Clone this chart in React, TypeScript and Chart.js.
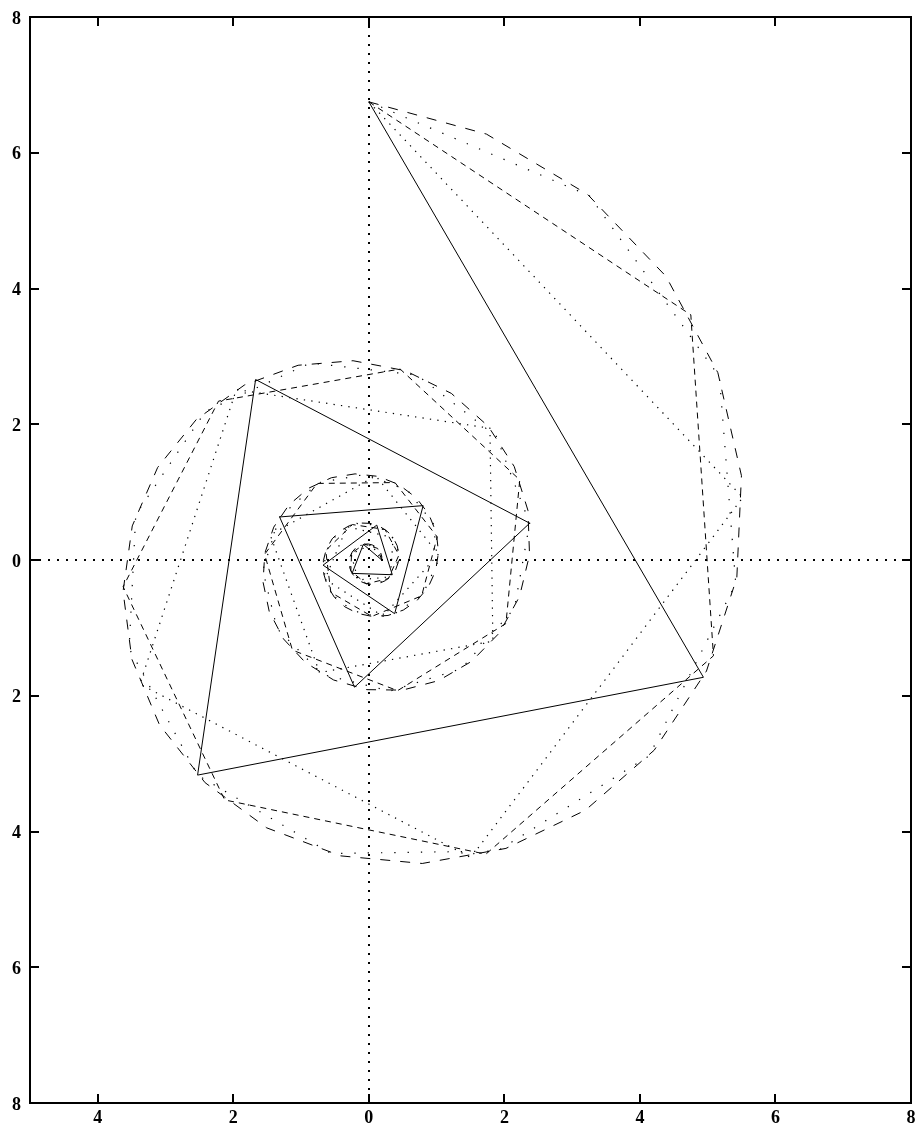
import React, { useEffect, useRef } from "react";
import { Chart, registerables } from "chart.js";

Chart.register(...registerables);

// tick values (labels are drawn as absolute values, as in the reference)
const xTickValues = [-4, -2, 0, 2, 4, 6, 8];
const yTickValues = [-8, -6, -4, -2, 0, 2, 4, 6, 8];

// solid curve (15 vertices)
const solidX = [0, 4.937, -2.527, -1.671, 2.373, -0.211, -1.317, 0.801, 0.381, -0.676, 0.117, 0.346, -0.247, -0.081, 0.19];
const solidY = [6.75, -1.728, -3.169, 2.659, 0.542, -1.874, 0.634, 0.801, -0.791, -0.076, 0.514, -0.217, -0.197, 0.231, 0];

// dotted curve (20 vertices)
const dottedX = [0, 5.518, 1.505, -3.378, -1.955, 1.787, 1.83, -0.728, -1.455, 0.103, 1.027, 0.21, -0.648, -0.321, 0.358, 0.318, -0.159, -0.262, 0.038, 0.19];
const dottedY = [6.75, 0.921, -4.384, -1.828, 2.512, 1.941, -1.196, -1.659, 0.369, 1.24, 0.085, -0.828, -0.284, 0.491, 0.329, -0.248, -0.294, 0.09, 0.226, 0];

// dashed curve (30 vertices)
const dashedX = [0, 4.751, 5.085, 1.727, -2.127, -3.626, -2.218, 0.461, 2.227, 2.023, 0.424, -1.128, -1.538, -0.764, 0.385, 1.009, 0.779, 0.045, -0.561, -0.636, -0.242, 0.238, 0.444, 0.289, -0.038, -0.266, -0.255, -0.065, 0.13, 0.19];
const dashedY = [6.75, 3.612, -1.412, -4.334, -3.535, -0.394, 2.341, 2.814, 1.181, -0.936, -1.925, -1.328, 0.083, 1.128, 1.141, 0.34, -0.528, -0.831, -0.477, 0.14, 0.522, 0.45, 0.073, -0.274, -0.35, -0.16, 0.102, 0.234, 0.171, 0];

// sparse-dot curve (50 vertices)
const sparseX = [0, 3.253, 5.173, 5.414, 4.136, 1.898, -0.558, -2.527, -3.537, -3.439, -2.411, -0.862, 0.714, 1.881, 2.373, 2.148, 1.364, 0.312, -0.682, -1.355, -1.565, -1.317, -0.741, -0.041, 0.576, 0.951, 1.015, 0.791, 0.381, -0.078, -0.454, -0.654, -0.647, -0.464, -0.179, 0.117, 0.341, 0.441, 0.406, 0.265, 0.07, -0.118, -0.247, -0.292, -0.25, -0.146, -0.015, 0.102, 0.175, 0.19];
const sparseY = [6.75, 5.367, 2.699, -0.348, -2.885, -4.288, -4.324, -3.169, -1.301, 0.67, 2.19, 2.903, 2.724, 1.821, 0.542, -0.713, -1.602, -1.931, -1.686, -1.011, -0.151, 0.634, 1.139, 1.263, 1.023, 0.536, -0.033, -0.515, -0.791, -0.812, -0.608, -0.265, 0.105, 0.395, 0.538, 0.514, 0.352, 0.116, -0.121, -0.291, -0.359, -0.319, -0.197, -0.038, 0.111, 0.209, 0.236, 0.195, 0.106, 0];

// long-dash curve (100 vertices)
const longX = [
  0, 1.735, 3.226, 4.384, 5.15, 5.498, 5.43, 4.982, 4.211, 3.195,
  2.023, 0.788, -0.416, -1.507, -2.416, -3.089, -3.496, -3.627, -3.491, -3.116,
  -2.547, -1.836, -1.044, -0.233, 0.538, 1.217, 1.762, 2.145, 2.348, 2.371,
  2.223, 1.928, 1.517, 1.027, 0.497, -0.03, -0.519, -0.937, -1.259, -1.47,
  -1.561, -1.536, -1.403, -1.179, -0.888, -0.553, -0.203, 0.137, 0.444, 0.698,
  0.885, 0.996, 1.028, 0.986, 0.876, 0.711, 0.508, 0.283, 0.053, -0.165,
  -0.355, -0.508, -0.613, -0.668, -0.671, -0.627, -0.541, -0.423, -0.283, -0.132,
  0.017, 0.155, 0.272, 0.362, 0.419, 0.443, 0.434, 0.395, 0.33, 0.246,
  0.151, 0.052, -0.044, -0.131, -0.202, -0.254, -0.284, -0.292, -0.278, -0.246,
  -0.199, -0.14, -0.076, -0.011, 0.05, 0.104, 0.146, 0.175, 0.19, 0.19,
];
const longY = [
  6.75, 6.275, 5.388, 4.18, 2.76, 1.242, -0.259, -1.636, -2.802, -3.687,
  -4.249, -4.471, -4.359, -3.946, -3.281, -2.429, -1.464, -0.463, 0.502, 1.364,
  2.069, 2.578, 2.869, 2.936, 2.789, 2.455, 1.97, 1.378, 0.73, 0.075,
  -0.539, -1.073, -1.493, -1.778, -1.917, -1.91, -1.768, -1.51, -1.163, -0.758,
  -0.327, 0.098, 0.485, 0.812, 1.058, 1.212, 1.269, 1.232, 1.11, 0.918,
  0.674, 0.399, 0.115, -0.158, -0.4, -0.597, -0.738, -0.817, -0.832, -0.787,
  -0.689, -0.55, -0.38, -0.196, -0.011, 0.163, 0.312, 0.429, 0.508, 0.545,
  0.54, 0.498, 0.423, 0.324, 0.208, 0.085, -0.035, -0.144, -0.235, -0.303,
  -0.345, -0.36, -0.348, -0.312, -0.257, -0.187, -0.108, -0.028, 0.049, 0.117,
  0.172, 0.211, 0.232, 0.236, 0.222, 0.194, 0.153, 0.105, 0.053, 0,
];

const toPoints = (xs: number[], ys: number[]) => xs.map((x, i) => ({ x, y: ys[i] }));

const LABEL_FONT = "bold 18px 'Liberation Serif', 'Times New Roman', serif";

const framePlugin = {
  id: "gnuFrame",
  beforeDatasetsDraw(chart: any) {
    const { ctx, chartArea: a, scales } = chart;
    const xs = scales.x;
    const ys = scales.y;
    const x0 = Math.round(xs.getPixelForValue(0));
    const y0 = Math.round(ys.getPixelForValue(0));
    ctx.save();
    ctx.strokeStyle = "#000";
    ctx.lineWidth = 2;
    ctx.setLineDash([2, 7]);
    ctx.beginPath();
    ctx.moveTo(a.left, y0);
    ctx.lineTo(a.right, y0);
    ctx.stroke();
    ctx.beginPath();
    ctx.moveTo(x0, a.top);
    ctx.lineTo(x0, a.bottom);
    ctx.stroke();
    ctx.restore();
  },
  afterDatasetsDraw(chart: any) {
    const { ctx, chartArea: a, scales } = chart;
    const xs = scales.x;
    const ys = scales.y;
    const len = 9;
    ctx.save();
    ctx.strokeStyle = "#000";
    ctx.lineWidth = 2;
    ctx.setLineDash([]);
    ctx.strokeRect(a.left, a.top, a.right - a.left, a.bottom - a.top);
    ctx.beginPath();
    xTickValues.forEach((v) => {
      const px = Math.round(xs.getPixelForValue(v));
      ctx.moveTo(px, a.bottom);
      ctx.lineTo(px, a.bottom - len);
      ctx.moveTo(px, a.top);
      ctx.lineTo(px, a.top + len);
    });
    yTickValues.forEach((v) => {
      const py = Math.round(ys.getPixelForValue(v));
      ctx.moveTo(a.left, py);
      ctx.lineTo(a.left + len, py);
      ctx.moveTo(a.right, py);
      ctx.lineTo(a.right - len, py);
    });
    ctx.stroke();

    // tick labels (absolute values, as in the reference)
    ctx.fillStyle = "#000";
    ctx.font = LABEL_FONT;
    ctx.textBaseline = "alphabetic";
    ctx.textAlign = "right";
    yTickValues.forEach((v) => {
      const py = ys.getPixelForValue(v);
      ctx.fillText(String(Math.abs(v)), a.left - 9, py + 6.5);
    });
    ctx.textAlign = "center";
    xTickValues.forEach((v) => {
      const px = xs.getPixelForValue(v);
      ctx.fillText(String(Math.abs(v)), px, a.bottom + 20);
    });
    ctx.restore();
  },
};

export default function App() {
  const canvasRef = useRef<HTMLCanvasElement | null>(null);

  useEffect(() => {
    const canvas = canvasRef.current;
    if (!canvas) return;
    const line = (xs: number[], ys: number[], dash: number[], width: number) => ({
      data: toPoints(xs, ys),
      showLine: true,
      borderColor: "#000",
      backgroundColor: "#000",
      borderWidth: width,
      borderDash: dash,
      pointRadius: 0,
      pointHoverRadius: 0,
      fill: false,
      tension: 0,
    });
    const chart = new Chart(canvas, {
      type: "scatter",
      data: {
        datasets: [
          line(longX, longY, [10, 10], 1),
          line(sparseX, sparseY, [1.3, 12], 1.2),
          line(dashedX, dashedY, [6, 5], 1),
          line(dottedX, dottedY, [1.3, 6.2], 1.2),
          line(solidX, solidY, [], 1),
        ] as any,
      },
      options: {
        responsive: false,
        maintainAspectRatio: false,
        animation: false,
        devicePixelRatio: 1,
        layout: { padding: { top: 17, right: 12, bottom: 0, left: 0 } },
        plugins: {
          legend: { display: false },
          tooltip: { enabled: false },
        },
        events: [],
        scales: {
          x: {
            type: "linear",
            position: "bottom",
            min: -5,
            max: 8,
            grid: { display: false },
            border: { display: false },
            ticks: { display: false },
            afterBuildTicks: (s: any) => {
              s.ticks = xTickValues.map((v) => ({ value: v }));
            },
            afterFit: (s: any) => {
              s.height = 25;
            },
          },
          y: {
            type: "linear",
            position: "left",
            min: -8,
            max: 8,
            grid: { display: false },
            border: { display: false },
            ticks: { display: false },
            afterBuildTicks: (s: any) => {
              s.ticks = yTickValues.map((v) => ({ value: v }));
            },
            afterFit: (s: any) => {
              s.width = 30;
            },
          },
        },
      } as any,
      plugins: [framePlugin],
    });
    return () => chart.destroy();
  }, []);

  return (
    <div style={{ position: "absolute", left: 0, top: 0, width: 923, height: 1128, background: "#fff" }}>
      <canvas ref={canvasRef} width={923} height={1128} style={{ width: 923, height: 1128, display: "block" }} />
    </div>
  );
}
